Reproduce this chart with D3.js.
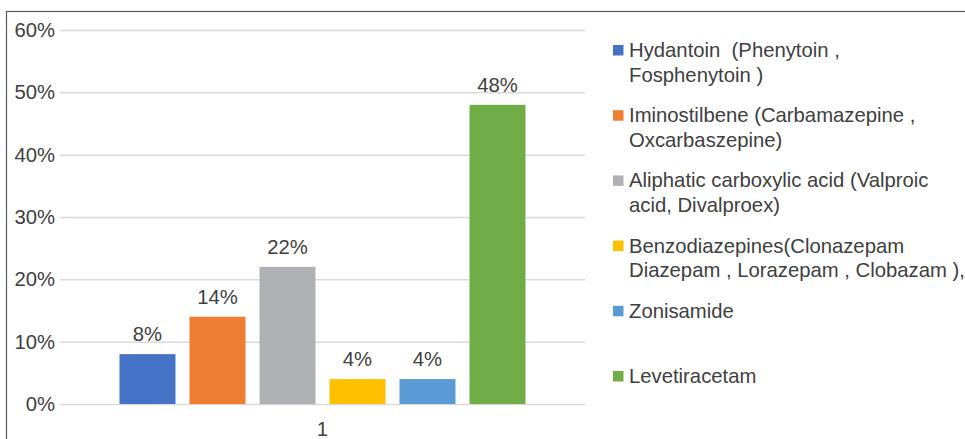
<!DOCTYPE html>
<html>
<head>
<meta charset="utf-8">
<script src="https://cdn.jsdelivr.net/npm/d3@7"></script>
<style>
  body { margin: 0; background: #fff; }
  text { font-family: "Liberation Sans", Arial, sans-serif; fill: #404040; white-space: pre; }
</style>
</head>
<body>
<div id="chart"></div>
<script>
const categories = ['1'];
const seriesNames = [
  'Hydantoin  (Phenytoin , Fosphenytoin )',
  'Iminostilbene (Carbamazepine , Oxcarbaszepine)',
  'Aliphatic carboxylic acid (Valproic acid, Divalproex)',
  'Benzodiazepines(Clonazepam Diazepam , Lorazepam , Clobazam ),',
  'Zonisamide',
  'Levetiracetam'
];
const legendLines = [
  ['Hydantoin  (Phenytoin ,', 'Fosphenytoin )'],
  ['Iminostilbene (Carbamazepine ,', 'Oxcarbaszepine)'],
  ['Aliphatic carboxylic acid (Valproic', 'acid, Divalproex)'],
  ['Benzodiazepines(Clonazepam', 'Diazepam , Lorazepam , Clobazam ),'],
  ['Zonisamide'],
  ['Levetiracetam']
];
const seriesValues = [0.08, 0.14, 0.22, 0.04, 0.04, 0.48];
const seriesColors = ['#4472C4', '#ED7D31', '#B0B1B4', '#FFC000', '#5B9BD5', '#70AD47'];
const yTicks = [0, 0.1, 0.2, 0.3, 0.4, 0.5, 0.6];

const width = 965, height = 439;
const margin = { top: 30, right: 380, bottom: 35, left: 60 };
const fontSize = 20.3;

const svg = d3.select('#chart').append('svg')
  .attr('width', width)
  .attr('height', height);

// outer frame (right and bottom edges fall outside the picture)
svg.append('rect')
  .attr('x', 6.5).attr('y', 11.5)
  .attr('width', width + 10).attr('height', height + 10)
  .attr('fill', 'none')
  .attr('stroke', '#595959')
  .attr('stroke-width', 1.2);

const y = d3.scaleLinear()
  .domain([0, 0.6])
  .range([height - margin.bottom, margin.top]);

const x0 = d3.scaleBand()
  .domain(categories)
  .range([margin.left, width - margin.right])
  .paddingInner(0)
  .paddingOuter(0.125);

const x1 = d3.scaleBand()
  .domain(seriesNames)
  .range([0, x0.bandwidth()])
  .paddingInner(0.2)
  .paddingOuter(0.1);

// grid lines + y labels
const yAxis = svg.append('g')
  .attr('transform', `translate(${margin.left},0)`)
  .call(d3.axisLeft(y)
    .tickValues(yTicks)
    .tickFormat(d3.format('.0%'))
    .tickSize(-(width - margin.right - margin.left))
    .tickPadding(5));
yAxis.select('.domain').remove();
yAxis.selectAll('.tick line')
  .attr('stroke', '#D9D9D9')
  .attr('stroke-width', 1.5);
yAxis.selectAll('.tick text')
  .attr('font-size', fontSize)
  .attr('font-family', '"Liberation Sans", Arial, sans-serif')
  .attr('fill', '#404040');

// bars
const group = svg.append('g')
  .selectAll('g')
  .data(categories)
  .join('g')
  .attr('transform', (d) => `translate(${x0(d)},0)`);

group.selectAll('rect')
  .data(seriesNames.map((name, i) => ({ name, value: seriesValues[i], color: seriesColors[i] })))
  .join('rect')
  .attr('x', (d) => x1(d.name))
  .attr('y', (d) => y(d.value))
  .attr('width', x1.bandwidth())
  .attr('height', (d) => y(0) - y(d.value))
  .attr('fill', (d) => d.color);

group.selectAll('text.value')
  .data(seriesNames.map((name, i) => ({ name, value: seriesValues[i] })))
  .join('text')
  .attr('class', 'value')
  .attr('x', (d) => x1(d.name) + x1.bandwidth() / 2)
  .attr('y', (d) => y(d.value) - 13)
  .attr('text-anchor', 'middle')
  .attr('font-size', fontSize)
  .text((d) => d3.format('.0%')(d.value));

// x category label
const xAxis = svg.append('g')
  .attr('transform', `translate(0,${y(0)})`)
  .call(d3.axisBottom(x0).tickSize(0).tickPadding(18));
xAxis.select('.domain').remove();
xAxis.selectAll('.tick text')
  .attr('font-size', fontSize)
  .attr('font-family', '"Liberation Sans", Arial, sans-serif')
  .attr('fill', '#404040');

// legend
const legend = svg.append('g')
  .attr('transform', 'translate(613,57)');

const item = legend.selectAll('g')
  .data(legendLines)
  .join('g')
  .attr('transform', (d, i) => `translate(0,${i * 65.2})`);

item.append('rect')
  .attr('x', 0).attr('y', -12)
  .attr('width', 10.5).attr('height', 10.5)
  .attr('fill', (d, i) => seriesColors[i]);

item.append('text')
  .attr('x', 16)
  .attr('font-size', fontSize)
  .selectAll('tspan')
  .data((d) => d)
  .join('tspan')
  .attr('x', 16)
  .attr('dy', (d, i) => (i === 0 ? 0 : 24.5))
  .text((d) => d);
</script>
</body>
</html>
